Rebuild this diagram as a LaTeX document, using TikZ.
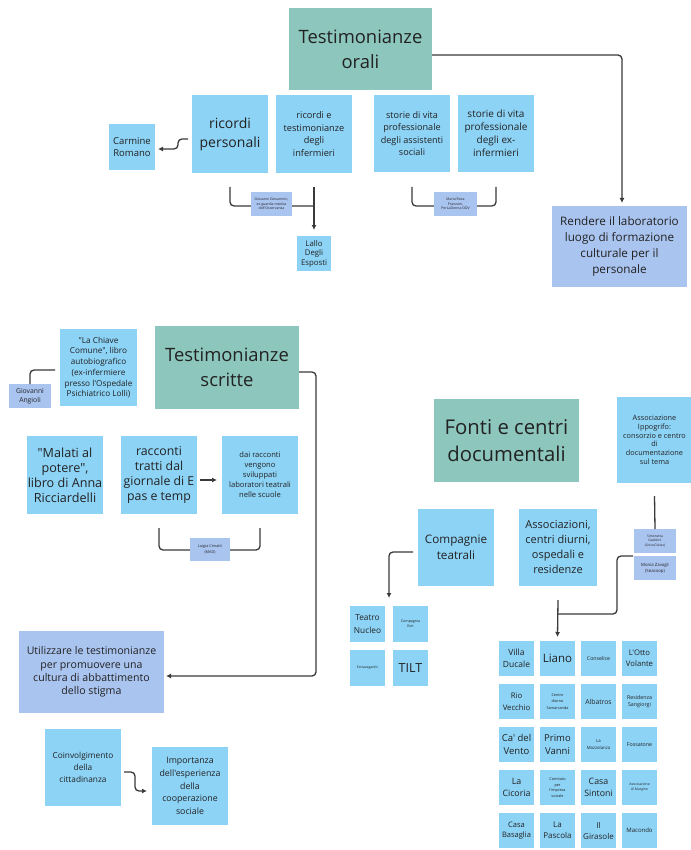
\documentclass[tikz,border=0pt]{standalone}
\usepackage{fontspec}
\setmainfont{Open Sans}[Ligatures=TeXOff]
\usetikzlibrary{positioning, arrows.meta}
\definecolor{skyfill}{HTML}{8DD3F6}
\definecolor{tealfill}{HTML}{8CC6BC}
\definecolor{lavfill}{HTML}{AAC4F0}
\definecolor{ink}{HTML}{222222}
\definecolor{wirecol}{HTML}{3A3A3A}

\begin{document}
\begin{tikzpicture}[x=1pt, y=-1pt,
    sticky/.style = {rectangle, fill=#1, text=ink,
                     align=center, inner sep=0pt, outer sep=0pt},
    sticky/.default = skyfill,
    boxsize/.style 2 args = {minimum width=#1pt, minimum height=#2pt},
    fs/.style 2 args = {font=\fontsize{#1}{#2}\selectfont},
    cell/.style = {sticky, boxsize={35}{35}},
    wire/.style = {draw=wirecol, line width=1.3pt, rounded corners=4pt},
    arrowed/.style = {-{Latex[length=5pt,width=5pt]}}
                    ]

    \fill[white] (0,0) rectangle (690,850);
    \useasboundingbox (0,0) rectangle (690,850);

    % testimonianze orali
    \node (orali) [sticky=tealfill, boxsize={143}{82}, fs={18.4}{25}]
        at (360.5,49) {Testimonianze\\orali};
    \node (rp) [sticky, boxsize={76}{78}, fs={14}{19}]
        at (230,134) {ricordi\\personali};
    \node (rt) [sticky, boxsize={76}{78}, fs={9.2}{12.5}]
        at (314,134) {ricordi e\\testimonianze\\degli\\infermieri};
    \node (sa) [sticky, boxsize={76}{77}, fs={9.1}{12.5}]
        at (412,133.5) {storie di vita\\professionale\\degli assistenti\\sociali};
    \node (se) [sticky, boxsize={76}{77}, fs={10}{13}]
        at (496,133.5) {storie di vita\\professionale\\degli ex-\\infermieri};
    \node (carmine) [sticky, boxsize={46}{46}, fs={9.5}{12}]
        at (132,147) {Carmine\\Romano};
    \node (lallo) [sticky, boxsize={34}{35}, fs={7.8}{9.5}]
        at (314,253.5) {Lallo\\Degli\\Esposti};
    \node (rendere) [sticky=lavfill, boxsize={135}{81}, fs={11.7}{16.3}]
        at (619.5,246.5) {Rendere il laboratorio\\luogo di formazione\\culturale per il\\personale};

    \draw[wire, arrowed] ([yshift=-6pt]orali.east) -| ([xshift=2.5pt,yshift=3pt]rendere.north);
    \draw[wire, arrowed] ([xshift=-4pt,yshift=-5pt]rp.west) -- ++(-10,0)
        |- ([xshift=3pt,yshift=-2pt]carmine.east);
    \draw[wire] ([yshift=-14pt]rp.south) |- ([yshift=-33pt]rt.south);
    \draw[wire, arrowed] ([yshift=-14pt]rt.south) -- ([yshift=6pt]lallo.north);
    \draw[wire] ([yshift=-15pt]sa.south) |- ([yshift=-34pt]se.south)
        -- ([yshift=-15pt]se.south);

    \node (giov) [sticky=lavfill, boxsize={41}{24}, fs={3.5}{4.5}]
        at (271.5,204) {Giovanni Giovannini,\\ex guardia medica\\dell'Osservanza};
    \node (maria) [sticky=lavfill, boxsize={43}{24}, fs={3.5}{4.5}]
        at (455.5,204) {Maria Rosa\\Pranzoni,\\PerLaDonna ODV};

    % testimonianze scritte
    \node (scritte) [sticky=tealfill, boxsize={144}{83}, fs={18.4}{25}]
        at (227,367.5) {Testimonianze\\scritte};
    \node (chiave) [sticky, boxsize={77}{77}, fs={8.2}{10.7}]
        at (98.5,367.5) {"La Chiave\\Comune", libro\\autobiografico\\(ex-infermiere\\presso l'Ospedale\\Psichiatrico Lolli)};
    \node (angioli) [sticky=lavfill, boxsize={42}{24}, fs={6.8}{9}]
        at (30,396) {Giovanni\\Angioli};
    \node (malati) [sticky, boxsize={76}{78}, fs={12.6}{15}]
        at (65,475) {"Malati al\\potere",\\libro di Anna\\Ricciardelli};
    \node (racconti) [sticky, boxsize={76}{78}, fs={12.3}{15}]
        at (159,475) {racconti\\tratti dal\\giornale di E\\pas e temp};
    \node (dai) [sticky, boxsize={76}{78}, fs={7.6}{10}]
        at (260,475) {dai racconti\\vengono\\sviluppati\\laboratori teatrali\\nelle scuole};
    \node (utilizzare) [sticky=lavfill, boxsize={145}{82}, fs={10.6}{13.3}]
        at (91.5,672) {Utilizzare le testimonianze\\per promuovere una\\cultura di abbattimento\\dello stigma};
    \node (coinv) [sticky, boxsize={76}{77}, fs={8.3}{11.7}]
        at (83,767.5) {Coinvolgimento\\della\\cittadinanza};
    \node (importanza) [sticky, boxsize={76}{78}, fs={8.8}{12.7}]
        at (190,786) {Importanza\\dell'esperienza\\della\\cooperazione\\sociale};

    \draw[wire] (angioli.north) |- ([xshift=-5pt,yshift=-2.5pt]chiave.west);
    \draw[wire, arrowed] ([yshift=-4.5pt]scritte.east) -- ++(17,0)
        |- ([xshift=2pt,yshift=-4pt]utilizzare.east);
    \draw[wire, arrowed] ([xshift=3pt,yshift=-5pt]racconti.east) -- ([xshift=-5pt,yshift=-5pt]dai.west);
    \draw[wire] ([yshift=-14pt]racconti.south) |- ([yshift=-36pt]dai.south)
        -- ([yshift=-14pt]dai.south);
    \draw[wire, arrowed] ([xshift=3pt,yshift=-4.5pt]coinv.east) -- ++(11,0)
        |- ([xshift=-5pt,yshift=-5pt]importanza.west);

    \node (luigia) [sticky=lavfill, boxsize={40}{23}, fs={3.8}{5.5}]
        at (210,549.5) {Luigia Cimatti\\(MAD)};

    % fonti e centri documentali
    \node (fonti) [sticky=tealfill, boxsize={145}{83}, fs={20.3}{27}]
        at (506.5,440.5) {Fonti e centri\\documentali};
    \node (ippogrifo) [sticky, boxsize={75}{86}, fs={7.3}{8.7}]
        at (654.5,440) {Associazione\\Ippogrifo:\\consorzio e centro\\di\\documentazione\\sul tema};
    \node (compagnie) [sticky, boxsize={76}{77}, fs={11.7}{15.7}]
        at (456,547.5) {Compagnie\\teatrali};
    \node (assoc) [sticky, boxsize={78}{77}, fs={11}{15}]
        at (558,547.5) {Associazioni,\\centri diurni,\\ospedali e\\residenze};
    \node (simonetta) [sticky=lavfill, boxsize={42}{24}, fs={3.3}{4.3}]
        at (655,541) {Simonetta\\Gaddoni\\(SolcoCivitas)};
    \node (monia) [sticky=lavfill, boxsize={42}{24}, fs={4.3}{6}]
        at (655,568) {Monia Zavagli\\(Seacoop)};

    \begin{scope}[node distance = 8pt and 8pt]
    \node (teatro) [cell, boxsize={35}{36}, fs={8.3}{12.3}]
        at (367.5,624) {Teatro\\Nucleo};
    \node (exit) [cell, boxsize={35}{36}, fs={3.6}{5}, right=of teatro] {Compagnia\\Exit};
    \node (extrav) [cell, boxsize={35}{36}, fs={3.4}{4.5}, below=of teatro] {Extravagantis};
    \node (tilt) [cell, boxsize={35}{36}, fs={12.5}{15}, right=of extrav] {TILT};
    \end{scope}

    \begin{scope}[node distance = 8pt and 6pt]
    \node (villa) [cell, fs={8.5}{12}] at (516.5,658.5) {Villa\\Ducale};
    \node (liano) [cell, fs={11.5}{14}, right=of villa] {Liano};
    \node (conselice) [cell, fs={5.2}{7}, right=of liano] {Conselice};
    \node (ottovolante) [cell, fs={7.7}{11}, right=of conselice] {L'Otto\\Volante};

    \node (rio) [cell, fs={7.7}{11.5}, below=of villa] {Rio\\Vecchio};
    \node (samarcanda) [cell, fs={3.8}{6.5}, right=of rio] {Centro\\diurno\\Samarcanda};
    \node (albatros) [cell, fs={6.8}{9}, right=of samarcanda] {Albatros};
    \node (sangiorgi) [cell, fs={5.3}{7.5}, right=of albatros] {Residenza\\Sangiorgi};

    \node (vento) [cell, fs={9.5}{13.5}, below=of rio] {Ca' del\\Vento};
    \node (vanni) [cell, fs={9.5}{13.5}, right=of vento] {Primo\\Vanni};
    \node (mazzolanza) [cell, fs={4.3}{7}, right=of vanni] {La\\Mazzolanza};
    \node (fossatone) [cell, fs={5.3}{7}, right=of mazzolanza] {Fossatone};

    \node (cicoria) [cell, fs={8.8}{12.5}, below=of vento] {La\\Cicoria};
    \node (comitato) [cell, fs={3.8}{5.7}, right=of cicoria] {Comitato\\per\\l'impresa\\sociale};
    \node (sintoni) [cell, fs={8.8}{12.5}, right=of comitato] {Casa\\Sintoni};
    \node (margine) [cell, fs={3.4}{5}, right=of sintoni] {Associazione\\Al Margine};

    \node (basaglia) [cell, fs={7.5}{10.5}, below=of cicoria] {Casa\\Basaglia};
    \node (pascola) [cell, fs={8}{11}, right=of basaglia] {La\\Pascola};
    \node (girasole) [cell, fs={8}{11}, right=of pascola] {Il\\Girasole};
    \node (macondo) [cell, fs={6}{8}, right=of girasole] {Macondo};
    \end{scope}

    \coordinate (hub) at ([yshift=-14pt]assoc.south);
    \draw[wire, arrowed] ([xshift=-5pt,yshift=-4.5pt]compagnie.west)
        -| ([xshift=4pt,yshift=8pt]teatro.north east);
    \draw[wire] ([yshift=-13pt]ippogrifo.south) -- (simonetta.north);
    \draw[wire] ([xshift=-1pt]monia.north west) -- ++(-16,0) |- ([yshift=-14pt]hub);
    \draw[wire, arrowed] (hub) -- ([yshift=4pt]liano.north);
\end{tikzpicture}
\end{document}
